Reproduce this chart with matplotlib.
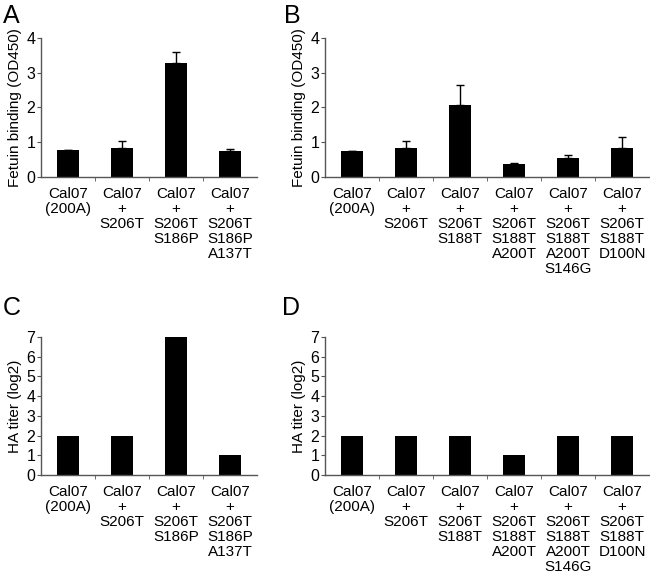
import matplotlib
matplotlib.use("Agg")
import matplotlib.pyplot as plt
import numpy as np
from matplotlib.ticker import FixedLocator

plt.rcParams['font.family'] = ['Liberation Sans', 'DejaVu Sans']

labels_A = ["Cal07\n(200A)", "Cal07\n+\nS206T", "Cal07\n+\nS206T\nS186P", "Cal07\n+\nS206T\nS186P\nA137T"]
labels_B = ["Cal07\n(200A)", "Cal07\n+\nS206T", "Cal07\n+\nS206T\nS188T", "Cal07\n+\nS206T\nS188T\nA200T",
            "Cal07\n+\nS206T\nS188T\nA200T\nS146G", "Cal07\n+\nS206T\nS188T\nD100N"]

fetuin_A = [0.77, 0.84, 3.28, 0.75]
fetuin_A_err = [0.02, 0.20, 0.33, 0.05]
fetuin_B = [0.76, 0.83, 2.06, 0.38, 0.55, 0.84]
fetuin_B_err = [0.0, 0.20, 0.60, 0.03, 0.08, 0.30]
titer_C = [2, 2, 7, 1]
titer_D = [2, 2, 2, 1, 2, 2]

fig = plt.figure(figsize=(6.5, 5.78), dpi=100)
W, H = 650, 578

def make_ax(x0, x1, ytop, ybot):
    return fig.add_axes([x0 / W, 1 - ybot / H, (x1 - x0) / W, (ybot - ytop) / H])

def style(ax, labels, vals, err, ymax, ylabel, letter, lx, ly):
    n = len(labels)
    x = np.arange(n)
    if err is not None:
        ax.bar(x, vals, width=0.41, color='black', yerr=[np.zeros(n), err],
               error_kw=dict(ecolor='black', elinewidth=1.0, capsize=3, capthick=1.0))
    else:
        ax.bar(x, vals, width=0.41, color='black')
    ax.set_xlim(-0.5, n - 0.5)
    ax.set_ylim(0, ymax)
    ax.set_yticks(range(0, ymax + 1))
    ax.tick_params(axis='y', direction='out', length=3, labelsize=11.5, pad=1, color='#555555')
    ax.set_xticks(x)
    ax.set_xticklabels(labels, fontsize=11, linespacing=1.1)
    ax.tick_params(axis='x', which='major', length=0, pad=7)
    ax.xaxis.set_minor_locator(FixedLocator(np.arange(0.5, n - 1, 1.0)))
    ax.tick_params(axis='x', which='minor', direction='out', length=3, color='#555555')
    for s in ['top', 'right']:
        ax.spines[s].set_visible(False)
    for s in ['left', 'bottom']:
        ax.spines[s].set_color('#555555')
        ax.spines[s].set_linewidth(1.0)
    ax.set_ylabel(ylabel, fontsize=11, labelpad=3)
    fig.text(lx / W, 1 - ly / H, letter, fontsize=18, ha='left', va='top')

axA = make_ax(41, 257, 38, 177)
style(axA, labels_A, fetuin_A, fetuin_A_err, 4, "Fetuin binding (OD450)", "A", 3, 4)
axB = make_ax(325, 649, 38, 177)
style(axB, labels_B, fetuin_B, fetuin_B_err, 4, "Fetuin binding (OD450)", "B", 284, 4)
axC = make_ax(41, 257, 337, 475)
style(axC, labels_A, titer_C, None, 7, "HA titer (log2)", "C", 3, 296)
axD = make_ax(325, 649, 337, 475)
style(axD, labels_B, titer_D, None, 7, "HA titer (log2)", "D", 282, 296)

fig.savefig("out.png", dpi=100)
